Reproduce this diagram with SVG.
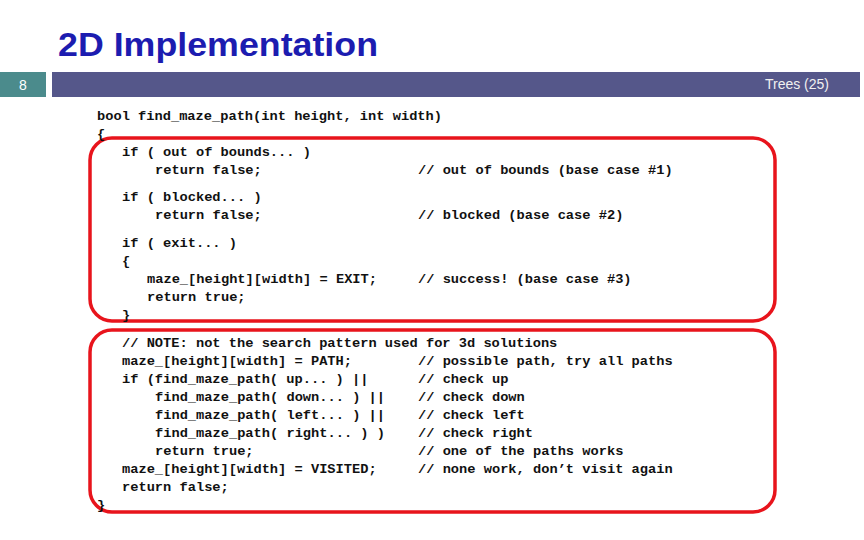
<svg xmlns="http://www.w3.org/2000/svg" width="864" height="540" viewBox="0 0 864 540">
<style>
.c{font-family:"Liberation Mono","DejaVu Sans Mono",monospace;font-size:13.7px;font-weight:bold;fill:#111}
.box{fill:none;stroke:#e8141c;stroke-width:3.5}
</style>
<rect width="864" height="540" fill="#fff"/>
<text x="58" y="56" font-family="Liberation Sans,Arial,sans-serif" font-size="34" font-weight="bold" fill="#1c1cb0" textLength="320" lengthAdjust="spacingAndGlyphs">2D Implementation</text>
<rect x="0" y="72" width="46" height="25" fill="#4b8b8c"/>
<text x="23" y="90" text-anchor="middle" font-family="Liberation Sans,Arial,sans-serif" font-size="14" fill="#fff">8</text>
<rect x="52" y="72" width="808" height="25" fill="#55578a"/>
<text x="829" y="89" text-anchor="end" font-family="Liberation Sans,Arial,sans-serif" font-size="14" fill="#f0f0f0">Trees (25)</text>
<g id="box1"><rect class="box" x="90" y="138" width="685" height="183" rx="22"/></g>
<g id="box2"><rect class="box" x="90" y="330" width="685" height="182" rx="22"/></g>
<g id="code" class="c">
<text x="97" y="120">bool find_maze_path(int height, int width)</text>
<text x="97" y="138">{</text>
<text x="122" y="156">if ( out of bounds... )</text>
<text x="155" y="174">return false;</text>
<text x="418" y="174">// out of bounds (base case #1)</text>
<text x="122" y="201">if ( blocked... )</text>
<text x="155" y="219">return false;</text>
<text x="418" y="219">// blocked (base case #2)</text>
<text x="122" y="247">if ( exit... )</text>
<text x="122" y="265">{</text>
<text x="147" y="283">maze_[height][width] = EXIT;</text>
<text x="418" y="283">// success! (base case #3)</text>
<text x="147" y="301">return true;</text>
<text x="122" y="319">}</text>
<text x="122" y="347">// NOTE: not the search pattern used for 3d solutions</text>
<text x="122" y="365">maze_[height][width] = PATH;</text>
<text x="418" y="365">// possible path, try all paths</text>
<text x="122" y="383">if (find_maze_path( up... ) ||</text>
<text x="418" y="383">// check up</text>
<text x="155" y="401">find_maze_path( down... ) ||</text>
<text x="418" y="401">// check down</text>
<text x="155" y="419">find_maze_path( left... ) ||</text>
<text x="418" y="419">// check left</text>
<text x="155" y="437">find_maze_path( right... ) )</text>
<text x="418" y="437">// check right</text>
<text x="155" y="455">return true;</text>
<text x="418" y="455">// one of the paths works</text>
<text x="122" y="473">maze_[height][width] = VISITED;</text>
<text x="418" y="473">// none work, don’t visit again</text>
<text x="122" y="491">return false;</text>
<text x="97" y="509">}</text>
</g>
</svg>
